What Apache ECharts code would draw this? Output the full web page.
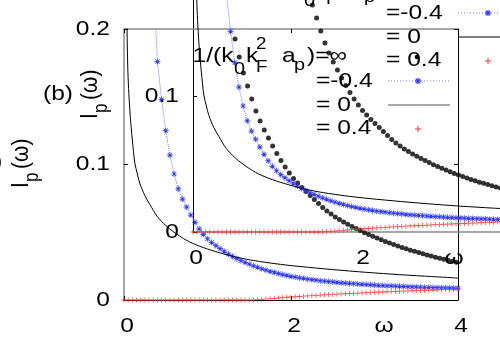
<!DOCTYPE html>
<html><head><meta charset="utf-8">
<script src="https://cdn.jsdelivr.net/npm/echarts@6/dist/echarts.min.js"></script>
<style>html,body{margin:0;padding:0;background:#fff}#c{width:500px;height:350px}</style>
</head><body><div id="c"></div>
<script>
// ---------------- data ----------------
// 1/(k0 kF^2 ap) = infinity  (black dots)
const omegaInf = [1.33,1.38,1.43,1.48,1.53,1.58,1.63,1.68,1.73,1.78,1.83,1.88,1.93,1.98,2.03,2.08,2.13,2.18,2.23,2.28,2.33,2.38,2.43,2.48,2.53,2.58,2.63,2.68,2.73,2.78,2.83,2.88,2.93,2.98,3.03,3.08,3.13,3.18,3.23,3.28,3.33,3.38,3.43,3.48,3.53,3.58,3.63,3.68,3.73,3.78,3.83,3.88,3.93,3.98];
const valInf = [0.1926,0.1793,0.1675,0.1579,0.1483,0.1395,0.1321,0.1255,0.1196,0.1137,0.1081,0.1030,0.0982,0.0937,0.0897,0.0863,0.0830,0.0801,0.0771,0.0742,0.0712,0.0683,0.0657,0.0635,0.0613,0.0594,0.0576,0.0559,0.0542,0.0527,0.0512,0.0497,0.0483,0.0470,0.0457,0.0444,0.0432,0.0421,0.0410,0.0399,0.0388,0.0378,0.0368,0.0359,0.0350,0.0341,0.0332,0.0324,0.0316,0.0308,0.0300,0.0293,0.0286,0.0278];
// = -0.4 (blue stars, dotted)
const omegaNeg = [0.35,0.40,0.45,0.50,0.55,0.60,0.65,0.70,0.75,0.80,0.85,0.90,0.95,1.00,1.05,1.10,1.15,1.20,1.25,1.30,1.35,1.40,1.45,1.50,1.55,1.60,1.65,1.70,1.75,1.80,1.85,1.90,1.95,2.00,2.05,2.10,2.15,2.20,2.25,2.30,2.35,2.40,2.45,2.50,2.55,2.60,2.65,2.70,2.75,2.80,2.85,2.90,2.95,3.00,3.05,3.10,3.15,3.20,3.25,3.30,3.35,3.40,3.45,3.50,3.55,3.60,3.65,3.70,3.75,3.80,3.85,3.90,3.95,4.00];
const valNeg = [0.240,0.176,0.148,0.125,0.107,0.093,0.082,0.0745,0.0685,0.0627,0.0573,0.0525,0.0485,0.0452,0.0424,0.0401,0.0379,0.0358,0.0339,0.0321,0.0305,0.0290,0.0277,0.0264,0.0252,0.0241,0.0230,0.0220,0.0211,0.0203,0.0195,0.0188,0.0181,0.0175,0.0169,0.0164,0.0159,0.0154,0.0150,0.0146,0.0142,0.0139,0.0136,0.0133,0.0130,0.0127,0.0125,0.0122,0.0120,0.0118,0.0116,0.0114,0.0112,0.0110,0.0108,0.0107,0.0105,0.0104,0.0102,0.0101,0.0100,0.0098,0.0097,0.0096,0.0095,0.0094,0.0093,0.0092,0.0091,0.0090,0.0090,0.0089,0.0088,0.0087];
// = 0 (black solid)
const omegaZero = [0.030,0.036,0.045,0.055,0.070,0.085,0.100,0.130,0.160,0.190,0.250,0.310,0.400,0.500,0.600,0.750,0.900,1.100,1.300,1.500,1.750,2.000,2.400,2.800,3.200,3.600,4.000];
const valZero = [0.225,0.200,0.172,0.156,0.140,0.128,0.118,0.101,0.093,0.086,0.077,0.0705,0.0615,0.0550,0.0500,0.0440,0.0398,0.0357,0.0323,0.0297,0.0273,0.0254,0.0230,0.0209,0.0191,0.0176,0.0162];
// = 0.4 (red plus)
const omegaPos = [0.00,0.05,0.10,0.15,0.20,0.25,0.30,0.35,0.40,0.45,0.50,0.55,0.60,0.65,0.70,0.75,0.80,0.85,0.90,0.95,1.00,1.05,1.10,1.15,1.20,1.25,1.30,1.35,1.40,1.45,1.50,1.55,1.60,1.65,1.70,1.75,1.80,1.85,1.90,1.95,2.00,2.05,2.10,2.15,2.20,2.25,2.30,2.35,2.40,2.45,2.50,2.55,2.60,2.65,2.70,2.75,2.80,2.85,2.90,2.95,3.00,3.05,3.10,3.15,3.20,3.25,3.30,3.35,3.40,3.45,3.50,3.55,3.60,3.65,3.70,3.75,3.80,3.85,3.90,3.95,4.00];
const valPos = [0,0,0,0,0,0,0,0,0,0,0,0,0,0,0,0,0,0,0,0,0,0,0,0,0,0,0,0,0,0,0,0.0001,0.0003,0.0005,0.0007,0.0010,0.0012,0.0015,0.0017,0.0020,0.0022,0.0024,0.0026,0.0028,0.0030,0.0032,0.0034,0.0036,0.0038,0.0040,0.0041,0.0043,0.0045,0.0046,0.0048,0.0049,0.0051,0.0052,0.0054,0.0055,0.0057,0.0058,0.0059,0.0061,0.0062,0.0063,0.0065,0.0066,0.0067,0.0068,0.0069,0.0071,0.0072,0.0073,0.0074,0.0075,0.0076,0.0077,0.0078,0.0079,0.0080];
// ticks
const xTicks = [0, 2, 4];
const xTickLabels = ['0', '2', '4'];
const yTicks = [0, 0.1, 0.2];
const yTickLabels = ['0', '0.1', '0.2'];
const legendLabels = ['=-0.4', '= 0', '= 0.4'];
const xTitle = 'ω';

// ---------------- drawing ----------------
const chart = echarts.init(document.getElementById('c'), null, {renderer: 'canvas'});
const FONT = '"Liberation Sans", Arial, Helvetica, sans-serif';
const SX = 1.17;
const zip = (a, b) => a.map((v, i) => [v, b[i]]);
const ASTER_D = 'M-0.6,-5L0.6,-5L0.6,5L-0.6,5Z M-5,-0.6L5,-0.6L5,0.6L-5,0.6Z M-3.96,-3.11L-3.11,-3.96L3.96,3.11L3.11,3.96Z M3.11,-3.96L3.96,-3.11L-3.11,3.96L-3.96,3.11Z';
const PLUS_D = 'M-0.5,-3L0.5,-3L0.5,3L-0.5,3Z M-3,-0.5L3,-0.5L3,0.5L-3,0.5Z';
const BLUE = '#2a35ff', BLUE_LINE = '#6f78ff', RED = '#ff3030';

function seriesFor(xi, yi) {
  return [
    {type: 'scatter', xAxisIndex: xi, yAxisIndex: yi, data: zip(omegaInf, valInf),
     symbol: 'circle', symbolSize: 5, itemStyle: {color: '#000'}, silent: true, z: 2},
    {type: 'line', xAxisIndex: xi, yAxisIndex: yi, data: zip(omegaNeg, valNeg),
     symbol: 'path://' + ASTER_D, symbolSize: 6, showSymbol: true, showAllSymbol: true,
     itemStyle: {color: BLUE, borderWidth: 0}, lineStyle: {color: BLUE_LINE, width: 1, type: 'dotted'},
     silent: true, z: 3},
    {type: 'line', xAxisIndex: xi, yAxisIndex: yi, data: zip(omegaZero, valZero),
     symbol: 'none', showSymbol: false, smooth: 0.3, lineStyle: {color: '#000', width: 1}, silent: true, z: 4},
    {type: 'scatter', xAxisIndex: xi, yAxisIndex: yi, data: zip(omegaPos, valPos),
     symbol: 'path://' + PLUS_D, symbolSize: 5, itemStyle: {color: RED, opacity: 0.85}, silent: true, z: 5}
  ];
}

function xAx(grid, pos, lineColor, lw) {
  return {gridIndex: grid, type: 'value', min: 0, max: 4, interval: 2, position: pos,
    axisLine: {show: true, onZero: false, lineStyle: {color: lineColor, width: lw}},
    axisTick: {show: true, inside: true, length: 4, lineStyle: {color: '#000', width: 1}},
    axisLabel: {show: false}, splitLine: {show: false}};
}
function yAx(grid, pos, lineColor, lw) {
  return {gridIndex: grid, type: 'value', min: 0, max: 0.2, interval: 0.1, position: pos,
    axisLine: {show: true, onZero: false, lineStyle: {color: lineColor, width: lw}},
    axisTick: {show: true, inside: true, length: 4, lineStyle: {color: '#000', width: 1}},
    axisLabel: {show: false}, splitLine: {show: false}};
}

const option = {
  animation: false,
  backgroundColor: '#fff',
  grid: [
    {left: 124, top: 29, width: 334, height: 271, containLabel: false, outerBoundsMode: 'none'},
    {left: 193, top: -39, width: 334, height: 271, containLabel: false, outerBoundsMode: 'none'}
  ],
  xAxis: [xAx(0, 'bottom', '#000', 1), xAx(0, 'top', '#8a8a8a', 1.5), xAx(1, 'bottom', '#8a8a8a', 1.5)],
  yAxis: [yAx(0, 'left', '#8a8a8a', 1.5), yAx(0, 'right', '#000', 1), yAx(1, 'left', '#000', 1)],
  series: seriesFor(0, 0).concat(seriesFor(2, 2))
};
chart.setOption(option);

// ---------- text helpers ----------
function T(x, baseline, text, size, align) {
  return {type: 'text', x: x, y: baseline - 0.3465 * size, scaleX: SX, scaleY: 1, silent: true, z: 100,
    style: {text: text, font: size + 'px ' + FONT, fill: '#000',
      textAlign: align || 'left', textVerticalAlign: 'middle'}};
}
function TL(x, baseline, text, size) { // local (for rotated group)
  return {type: 'text', x: x, y: baseline - 0.3465 * size, silent: true,
    style: {text: text, font: size + 'px ' + FONT, fill: '#000', textAlign: 'left', textVerticalAlign: 'middle'}};
}
function yTitle(bx, startY) {
  return {type: 'group', x: bx, y: startY, rotation: Math.PI / 2, scaleX: 1, scaleY: SX, silent: true, z: 100,
    children: [TL(0, 0, 'I', 21), TL(6, 8, 'p', 17), TL(19, 0, '(ω)', 21)]};
}
function seg(x1, y1, x2, y2, color, w, dash) {
  return {type: 'line', shape: {x1: x1, y1: y1, x2: x2, y2: y2}, silent: true, z: 101,
    style: {stroke: color, lineWidth: w, lineDash: dash || null}};
}
function legend(dx, dy, zeroColor) {
  const els = [];
  const P = (x, b, t, s) => els.push(T(x + dx, b + dy, t, s));
  P(192.5, 63, '1/(k', 21);
  P(234, 75, '0', 17);
  P(246, 63, 'k', 21);
  P(256, 73, 'F', 16);
  P(256, 50, '2', 16);
  P(282, 63, 'a', 21);
  P(294, 71, 'p', 17);
  P(307, 63, ')=∞', 21);
  P(316, 88, legendLabels[0], 21);
  P(316, 112, legendLabels[1], 21);
  P(316, 135, legendLabels[2], 21);
  // samples
  els.push({type: 'circle', shape: {cx: 417 + dx, cy: 57 + dy, r: 2.3}, style: {fill: '#000'}, silent: true, z: 100});
  els.push(seg(388 + dx, 81 + dy, 450 + dx, 81 + dy, BLUE_LINE, 1, [1, 2]));
  const sx = 418 + dx, sy = 81 + dy;
  els.push(seg(sx - 3, sy, sx + 3, sy, BLUE, 1.2));
  els.push(seg(sx, sy - 3, sx, sy + 3, BLUE, 1.2));
  els.push(seg(sx - 2.3, sy - 2.3, sx + 2.3, sy + 2.3, BLUE, 1.2));
  els.push(seg(sx - 2.3, sy + 2.3, sx + 2.3, sy - 2.3, BLUE, 1.2));
  els.push(seg(388 + dx, 105 + dy, 450 + dx, 105 + dy, zeroColor, zeroColor === '#000' ? 1 : 1.5));
  const px = 418 + dx, py = 129 + dy;
  els.push(seg(px - 3, py, px + 3, py, RED, 1));
  els.push(seg(px, py - 3, px, py + 3, RED, 1));
  return els;
}

const g = [];
// tick labels through the axes' scales
[[0, 0, 333.5, 110], [2, 2, 265.5, 179]].forEach(([xi, yi, xBase, yRight]) => {
  xTicks.forEach((v, i) => {
    const px = chart.convertToPixel({xAxisIndex: xi}, v);
    g.push(T(px + 3, xBase, xTickLabels[i], 21, 'center'));
  });
  yTicks.forEach((v, i) => {
    const py = chart.convertToPixel({yAxisIndex: yi}, v);
    g.push(T(yRight, py + 0.3465 * 21, yTickLabels[i], 21, 'right'));
  });
});
// axis titles
g.push(T(384, 333.5, xTitle, 21, 'center'));
g.push(T(454, 265.5, xTitle, 21, 'center'));
g.push(yTitle(30, 188));
g.push(yTitle(99, 119));
g.push(T(2.5, 169.5, '(a)', 21, 'right'));
g.push(T(43, 101.5, '(b)', 21, 'left'));
// legends (main, and the inset copy)
legend(0, 0, '#8a8a8a').forEach(e => g.push(e));
legend(70, -68, '#000').forEach(e => g.push(e));

chart.setOption({graphic: g});
</script>
</body></html>
